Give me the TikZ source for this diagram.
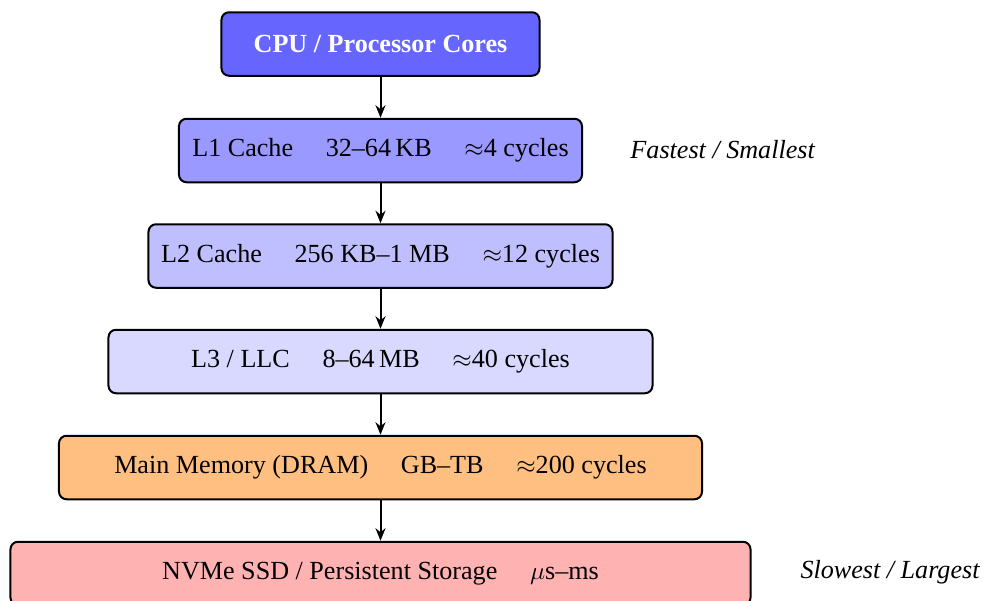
\documentclass[tikz,border=0pt]{standalone}
\usepackage{fontspec}
\setmainfont{Liberation Serif}
\usetikzlibrary{arrows.meta}
\begin{document}
\begin{tikzpicture}[x={(0.4pt,0)},y={(0,-0.4pt)},
  every node/.style={font=\fontsize{10.45}{12.5}\selectfont},
  level/.style={draw=black, thick, rounded corners=3pt, minimum height=25.4pt, inner sep=0pt, align=center},
  link/.style={-{Stealth[length=5pt,width=4pt]}, thick},
  side/.style={anchor=west, inner sep=0pt}]
\useasboundingbox (0,0) rectangle (983,601);
\node[level, fill=blue!60, minimum width=127.2pt, text=white] (cpu) at (380.5,44) {\bfseries CPU / Processor Cores};
\node[level, fill=blue!40, minimum width=161.2pt] (l1) at (380.5,150.5) {L1 Cache \quad 32--64\,KB \quad $\approx$4 cycles};
\node[level, fill=blue!25, minimum width=185.6pt] (l2) at (380.5,256) {L2 Cache \quad 256 KB--1 MB \quad $\approx$12 cycles};
\node[level, fill=blue!15, minimum width=217.6pt] (l3) at (380.5,361.5) {L3 / LLC \quad 8--64\,MB \quad $\approx$40 cycles};
\node[level, fill=orange!50, minimum width=257.2pt] (dram) at (380.5,467.5) {Main Memory (DRAM) \quad GB--TB \quad $\approx$200 cycles};
\node[level, fill=red!30, minimum width=296pt] (ssd) at (380.5,573.5) {NVMe SSD / Persistent Storage \quad $\mu$s--ms};
\node[side] (fast) at (630,150) {\itshape Fastest / Smallest};
\node[side] (slow) at (800,572) {\itshape Slowest / Largest};
\draw[link] (cpu) -- (l1);
\draw[link] (l1) -- (l2);
\draw[link] (l2) -- (l3);
\draw[link] (l3) -- (dram);
\draw[link] (dram) -- (ssd);
\end{tikzpicture}
\end{document}
